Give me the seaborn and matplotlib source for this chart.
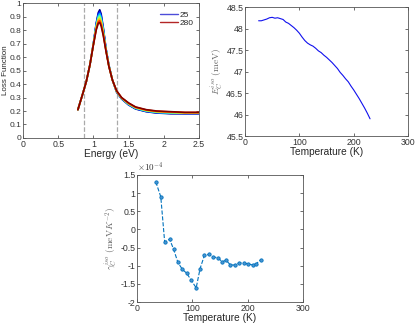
import numpy as np
import pandas as pd
import matplotlib
matplotlib.use('Agg')
import matplotlib.pyplot as plt
from matplotlib.lines import Line2D
import seaborn as sns

# loss function curves (8 temperatures, 25 K -> 280 K)
energy = [0.78, 0.85, 0.90, 0.95, 1.00, 1.04, 1.07, 1.09, 1.11, 1.14, 1.18,
          1.22, 1.27, 1.33, 1.40, 1.50, 1.60, 1.75, 1.90, 2.10, 2.30, 2.50]
temps = [25, 61, 98, 134, 171, 207, 244, 280]
loss_25 = [.21, .33, .42, .54, .700, .850, .930, .950, .920, .820, .660, .540, .43, .340, .290, .245, .215, .195, .185, .180, .180, .180]
loss_61 = [.21, .33, .42, .54, .699, .843, .919, .936, .907, .811, .657, .539, .43, .341, .291, .247, .217, .197, .187, .182, .181, .181]
loss_98 = [.21, .33, .42, .54, .697, .836, .907, .923, .894, .803, .654, .537, .43, .343, .293, .249, .219, .199, .189, .184, .183, .183]
loss_134 = [.21, .33, .42, .54, .696, .829, .896, .909, .881, .794, .651, .536, .43, .344, .294, .251, .221, .201, .191, .186, .184, .184]
loss_171 = [.21, .33, .42, .54, .694, .821, .884, .896, .869, .786, .649, .534, .43, .346, .296, .254, .224, .204, .194, .189, .186, .186]
loss_207 = [.21, .33, .42, .54, .693, .814, .873, .882, .856, .777, .646, .533, .43, .347, .297, .256, .226, .206, .196, .191, .187, .187]
loss_244 = [.21, .33, .42, .54, .691, .807, .861, .869, .843, .769, .643, .531, .43, .349, .299, .258, .228, .208, .198, .193, .189, .189]
loss_280 = [.21, .33, .42, .54, .690, .800, .850, .855, .830, .760, .640, .530, .43, .350, .300, .260, .230, .210, .200, .195, .190, .190]
loss_curves = [loss_25, loss_61, loss_98, loss_134, loss_171, loss_207, loss_244, loss_280]
vlines = [0.87, 1.34]

# E_C^iso vs temperature
temp_e = [25, 30, 35, 40, 45, 50, 55, 60, 65, 70, 75, 80, 85, 90, 95, 100, 105,
          110, 115, 120, 125, 130, 135, 140, 145, 150, 155, 160, 165, 170, 175,
          180, 185, 190, 195, 200, 205, 210, 215, 220, 225, 230]
e_iso = [48.18, 48.18, 48.20, 48.22, 48.25, 48.26, 48.24, 48.25, 48.23, 48.21,
         48.15, 48.12, 48.07, 48.02, 47.96, 47.89, 47.80, 47.72, 47.66, 47.62,
         47.59, 47.54, 47.48, 47.44, 47.38, 47.33, 47.27, 47.21, 47.14, 47.07,
         46.98, 46.91, 46.83, 46.76, 46.66, 46.57, 46.47, 46.37, 46.26, 46.15,
         46.03, 45.90]

# gamma_C^iso (units of 1e-4 meV K^-2)
temp_g = [34, 43, 50, 59, 66, 74, 82, 90, 98, 107, 114, 122, 130, 138, 146,
          154, 161, 169, 177, 185, 193, 201, 209, 216, 224]
gamma = [1.31, 0.90, -0.34, -0.27, -0.54, -0.91, -1.10, -1.21, -1.40, -1.61,
         -1.08, -0.71, -0.69, -0.76, -0.78, -0.89, -0.85, -0.98, -0.98, -0.92,
         -0.93, -0.95, -0.98, -0.94, -0.83]

sns.set_style('ticks')
plt.rcParams['font.family'] = ['Liberation Sans', 'DejaVu Sans']
plt.rcParams['mathtext.fontset'] = 'cm'
plt.rcParams['axes.unicode_minus'] = False
plt.rcParams['xtick.direction'] = 'in'
plt.rcParams['ytick.direction'] = 'in'
plt.rcParams['xtick.top'] = True
plt.rcParams['ytick.right'] = True

fig = plt.figure(figsize=(4.16, 3.26), dpi=100)
ax1 = fig.add_axes([0.0553, 0.5767, 0.423, 0.414])
ax2 = fig.add_axes([0.589, 0.5828, 0.392, 0.3957])
ax3 = fig.add_axes([0.3293, 0.0736, 0.399, 0.3896])

rows = []
for t, c in zip(temps, loss_curves):
    for e, v in zip(energy, c):
        rows.append((t, e, v))
df = pd.DataFrame(rows, columns=['T', 'E', 'L'])
cols = [plt.cm.jet(i / (len(temps) - 1)) for i in range(len(temps))]
sns.lineplot(data=df, x='E', y='L', hue='T', palette=cols, legend=False,
             lw=1.2, ax=ax1)
for v in vlines:
    ax1.axvline(v, color='#aaaaaa', ls='--', lw=0.9, zorder=0)
ax1.set_xlim(0, 2.5)
ax1.set_ylim(0, 1)
ax1.set_xticks(np.arange(0, 2.51, 0.5))
ax1.set_yticks(np.arange(0, 1.01, 0.1))
ax1.set_xlabel('Energy (eV)', labelpad=0)
ax1.set_ylabel('Loss Function')
hs = [Line2D([], [], color=(0.3, 0.3, 0.85), lw=1), Line2D([], [], color=(0.7, 0.15, 0.15), lw=1)]
ax1.legend(hs, ['25', '280'], frameon=False, fontsize=6, handlelength=2.2,
           handletextpad=0.2, labelspacing=0.1, loc='upper right',
           bbox_to_anchor=(1.0, 0.98), borderaxespad=0.2)

sns.lineplot(x=temp_e, y=e_iso, color='#1010ee', lw=0.8, ax=ax2)
ax2.set_xlim(0, 300)
ax2.set_ylim(45.5, 48.5)
ax2.set_xticks([0, 100, 200, 300])
ax2.set_yticks(np.arange(45.5, 48.51, 0.5))
ax2.set_xlabel('Temperature (K)', labelpad=0)
ax2.set_ylabel(r'$E_C^{iso}\ (\mathrm{meV})$', color='#666666')

sns.lineplot(x=temp_g, y=gamma, color='#0072bd', lw=0.8, ls='--',
             marker='o', ms=2.4, mec='#0072bd', mfc='#4a95d2', mew=0.6, ax=ax3)
ax3.set_xlim(0, 300)
ax3.set_ylim(-2, 1.5)
ax3.set_xticks([0, 100, 200, 300])
ax3.set_yticks(np.arange(-2, 1.51, 0.5))
ax3.set_xlabel('Temperature (K)', labelpad=0)
ax3.set_ylabel(r'$\gamma_C^{iso}\ (\mathrm{meV}K^{-2})$', color='#666666')
ax3.text(0.0, 1.01, r'$\times10^{-4}$', transform=ax3.transAxes, fontsize=6.5,
         color='#333333', ha='left', va='bottom', family='DejaVu Sans')

fmt = matplotlib.ticker.FuncFormatter(lambda v, p: f'{v:g}')
for ax in (ax1, ax2, ax3):
    ax.xaxis.set_major_formatter(fmt)
    ax.yaxis.set_major_formatter(fmt)
    ax.tick_params(labelsize=6.3, length=2.5, width=0.5, colors='#333333', pad=1.2)
    ax.xaxis.label.set_size(7.3)
    ax.yaxis.label.set_size(6.8)
    ax.yaxis.labelpad = 1
    for s in ax.spines.values():
        s.set_color('#555555')
        s.set_linewidth(0.6)

# keep the left label inside the figure, like the reference
ax1.tick_params(axis='y', labelsize=6)
ax1.yaxis.label.set_size(5.8)
ax1.yaxis.set_label_coords(-0.079, 0.5)

fig.savefig('out.png', dpi=100)
